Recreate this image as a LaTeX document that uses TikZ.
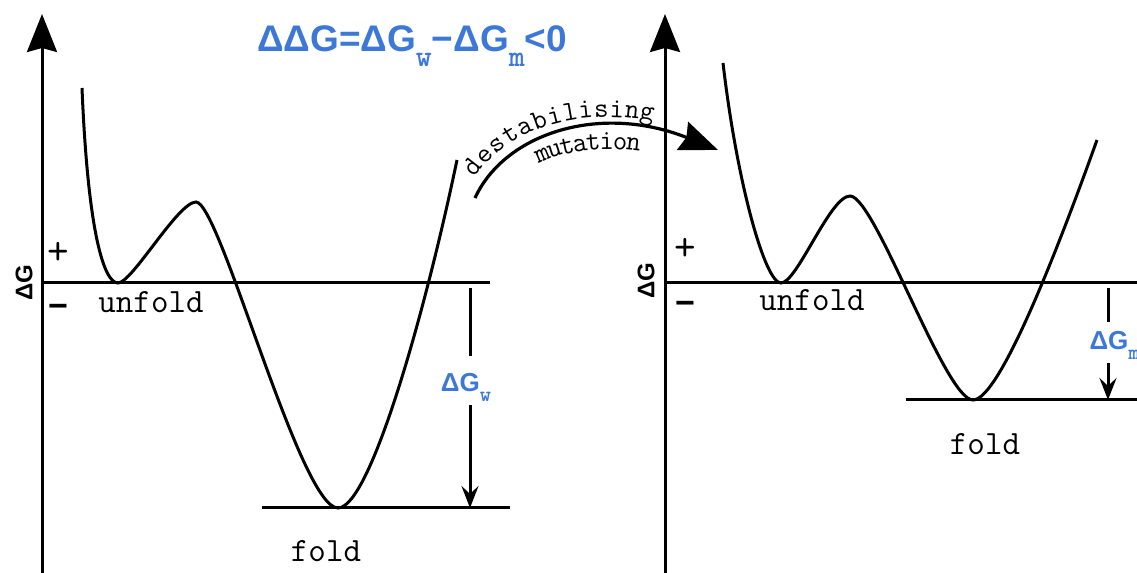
\documentclass[tikz,border=0pt]{standalone}
\usepackage{fontspec}
\setmainfont{Liberation Sans}
\usepackage{tikz}
\usetikzlibrary{arrows.meta,decorations.text}
\definecolor{dgblue}{HTML}{3C78D8}
\newcommand{\dgsub}[1]{\raisebox{-0.38em}{\scalebox{0.82}{\ttfamily\bfseries #1}}}

\begin{document}
\begin{tikzpicture}[x=0.5pt,y=0.5pt,line width=1.5pt,
  bigtip/.style={-{Stealth[length=19pt,width=15pt,inset=2pt]}},
  smalltip/.style={-{Stealth[length=11pt,width=8.5pt,inset=4pt]}},
  mono/.style={font=\ttfamily\fontsize{17}{20}\selectfont},
  dglabel/.style={text=dgblue,font=\bfseries\fontsize{13}{15}\selectfont,inner sep=1pt},
  axislabel/.style={rotate=90,font=\bfseries\fontsize{12}{14}\selectfont},
  plussign/.style={font=\ttfamily\fontsize{21}{22}\selectfont},
  minussign/.style={font=\bfseries\fontsize{17}{20}\selectfont}]
 \useasboundingbox (0,0) rectangle (1137,573);
 \clip (0,0) rectangle (1137,573);

 \node[dglabel,font=\bfseries\fontsize{18.5}{22}\selectfont,anchor=base] (title) at (412,521)
   {ΔΔG=ΔG\dgsub{w}−ΔG\dgsub{m}<0};

 % wild type
 \draw[bigtip] (42,0) -- (42,559);
 \draw (42,290) -- (490,290)   (262,65) -- (510,65);
 \draw (82,485) .. controls (88,340) and (104,290) .. (118,290)
   .. controls (132,290) and (178,371) .. (196,371)
   .. controls (220,371) and (300,65) .. (338,65)
   .. controls (370,65) and (425,260) .. (457,413);

 \node[axislabel] (dgleft) at (24,290) {ΔG};
 \node[plussign] (plusleft) at (58,320) {+};
 \node[minussign] (minusleft) at (58,262) {−};
 \node[mono,anchor=base] (unfoldleft) at (151,260) {unfold};
 \node[mono,anchor=base] (foldleft) at (326,11) {fold};

 \coordinate (wtop) at (470,285);
 \coordinate (wbot) at (470,65);
 \node[dglabel,anchor=base] (dgw) at (466,181) {ΔG\dgsub{w}};
 \draw[shorten >=7pt] (wtop) -- (wtop |- dgw.north);
 \draw[smalltip] (wtop |- dgw.south) -- (wbot);

 % mutation
 \coordinate (mutstart) at (475,375);
 \coordinate (mutend) at (718,423);
 \draw[bigtip,line width=1.6pt] (mutstart) .. controls (505,440) and (600,470) .. (mutend);
 \path[decorate,decoration={text along path,raise=5pt,text align={left indent=8pt},
   text={|\ttfamily\fontsize{14}{16}\selectfont|destabilising}}]
   (mutstart) .. controls (505,440) and (600,470) .. (mutend);
 \path[decorate,decoration={text along path,raise=-11pt,text align=center,
   text={|\ttfamily\fontsize{14}{16}\selectfont|mutation}}]
   (mutstart) .. controls (505,440) and (600,470) .. (mutend);

 % mutant
 \draw[bigtip] (665,0) -- (665,559);
 \draw (665,290) -- (1137,290)   (906,173) -- (1137,173);
 \draw (723,510) .. controls (737,390) and (765,290) .. (781,290)
   .. controls (797,290) and (830,377) .. (850,377)
   .. controls (875,377) and (945,173) .. (973,173)
   .. controls (1000,173) and (1060,330) .. (1097,433);

 \node[axislabel] (dgright) at (646,292) {ΔG};
 \node[plussign] (plusright) at (685,324) {+};
 \node[minussign] (minusright) at (685,265) {−};
 \node[mono,anchor=base] (unfoldright) at (812,262) {unfold};
 \node[mono,anchor=base] (foldright) at (985,118) {fold};

 \coordinate (mtop) at (1108,285);
 \coordinate (mbot) at (1108,173);
 \node[dglabel,anchor=base west] (dgm) at (1086,223) {ΔG\dgsub{m}};
 \draw[shorten >=3pt] (mtop) -- (mtop |- dgm.north);
 \draw[smalltip] (mtop |- dgm.south) -- (mbot);
\end{tikzpicture}
\end{document}
